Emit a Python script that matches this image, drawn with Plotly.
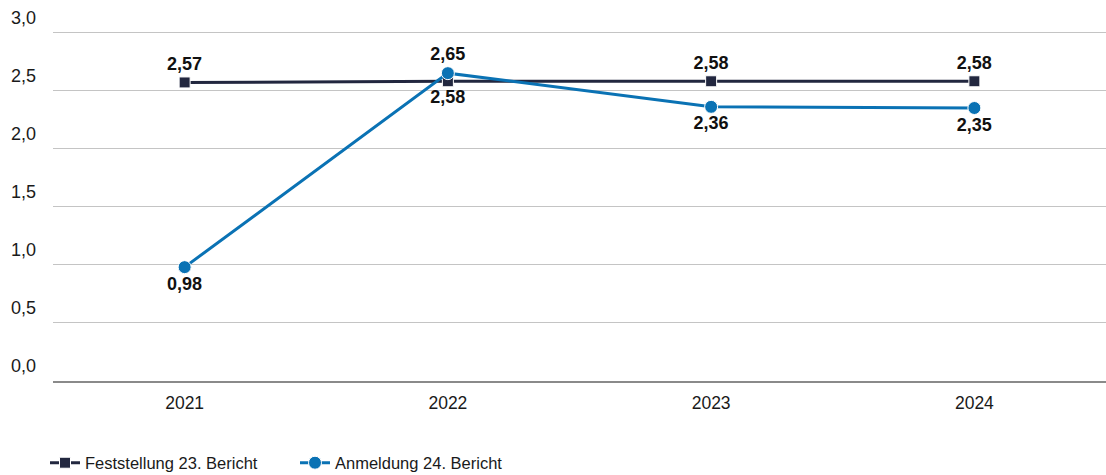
import plotly.graph_objects as go

years = ["2021", "2022", "2023", "2024"]
feststellung = [2.57, 2.58, 2.58, 2.58]
anmeldung = [0.98, 2.65, 2.36, 2.35]
fest_pos = ["top center", "bottom center", "top center", "top center"]
anm_pos = ["bottom center", "top center", "bottom center", "bottom center"]
y_ticks = [0, 0.5, 1.0, 1.5, 2.0, 2.5, 3.0]

NAVY = "#22273f"
BLUE = "#0a72b4"
FONT = "Liberation Sans, Arial, sans-serif"

fig = go.Figure()
fig.add_trace(go.Scatter(
    x=years, y=feststellung, name="Feststellung 23. Bericht",
    mode="lines+markers+text",
    line=dict(color=NAVY, width=3),
    marker=dict(symbol="square", size=11, color=NAVY, line=dict(color="#ffffff", width=1)),
    texttemplate="%{y:.2f}", textposition=fest_pos,
    textfont=dict(family=FONT, size=18, color="#111111", weight="bold"),
    cliponaxis=False,
))
fig.add_trace(go.Scatter(
    x=years, y=anmeldung, name="Anmeldung 24. Bericht",
    mode="lines+markers+text",
    line=dict(color=BLUE, width=3),
    marker=dict(symbol="circle", size=13, color=BLUE, line=dict(color="#ffffff", width=1)),
    texttemplate="%{y:.2f}", textposition=anm_pos,
    textfont=dict(family=FONT, size=18, color="#111111", weight="bold"),
    cliponaxis=False,
))

fig.update_layout(
    width=1106, height=475,
    margin=dict(l=53, r=0, t=28.5, b=94, autoexpand=False),
    paper_bgcolor="white", plot_bgcolor="white",
    separators=",.",
    font=dict(family=FONT, size=17, color="#1a1a1a"),
    showlegend=True,
    legend=dict(orientation="h", x=45 / 1106, xref="container", y=12 / 475, yref="container",
                xanchor="left", yanchor="middle", font=dict(size=16.5),
                entrywidth=205, entrywidthmode="pixels", tracegroupgap=0),
    xaxis=dict(type="category", range=[-0.5, 3.5], showgrid=False, automargin=False,
               showline=True, linecolor="#8a8a8a", linewidth=1.5,
               ticks="", tickfont=dict(size=17.5), ticklabelstandoff=5, fixedrange=True),
    yaxis=dict(range=[0, 3.03], tickvals=y_ticks, tickformat=".1f", automargin=False,
               showgrid=True, gridcolor="#c4c4c4", gridwidth=1,
               zeroline=False, showline=False, ticks="",
               tickfont=dict(size=18), ticklabelshift=-15, ticklabelstandoff=16,
               fixedrange=True),
)

fig.write_html("out.html", config={"displayModeBar": False},
               post_script="document.body.style.margin='0';")
